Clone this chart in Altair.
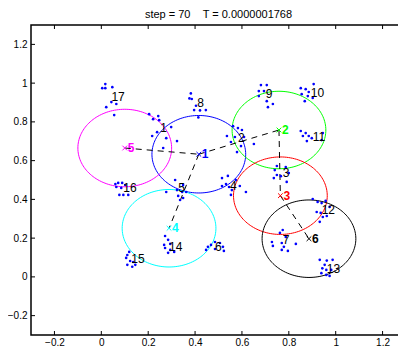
import altair as alt
import pandas as pd
import numpy as np

# ---------------- data ----------------
center_ids = ["1", "2", "3", "4", "5", "6"]
center_x = [0.416, 0.758, 0.764, 0.289, 0.100, 0.886]
center_y = [0.633, 0.758, 0.419, 0.251, 0.665, 0.197]
center_colors = ["#0000ff", "#00ff00", "#ff0000", "#00ffff", "#ff00ff", "#000000"]
radius = 0.2
edges = [("5", "1"), ("1", "2"), ("1", "4"), ("2", "3"), ("3", "6")]

cluster_names = [str(i) for i in range(1, 18)]
cluster_lx = [0.251, 0.583, 0.774, 0.549, 0.328, 0.485, 0.774, 0.409, 0.702,
              0.894, 0.902, 0.940, 0.962, 0.289, 0.128, 0.094, 0.043]
cluster_ly = [0.768, 0.716, 0.536, 0.469, 0.459, 0.155, 0.191, 0.897, 0.943,
              0.948, 0.722, 0.345, 0.041, 0.155, 0.093, 0.459, 0.928]

dots_x = {
    1: [0.204, 0.243, 0.221, 0.247, 0.298, 0.238, 0.217, 0.277, 0.323, 0.264],
    2: [0.562, 0.583, 0.600, 0.536, 0.570, 0.609, 0.553, 0.651, 0.579, 0.596],
    3: [0.749, 0.787, 0.740, 0.749, 0.736, 0.791, 0.800, 0.766],
    4: [0.515, 0.540, 0.532, 0.515, 0.545, 0.557, 0.553, 0.617, 0.574, 0.591],
    5: [0.277, 0.315, 0.349, 0.323, 0.345, 0.328, 0.349, 0.336, 0.362],
    6: [0.447, 0.455, 0.468, 0.485, 0.506, 0.519, 0.523, 0.485],
    7: [0.774, 0.762, 0.787, 0.728, 0.732, 0.770, 0.779, 0.796, 0.770, 0.830],
    8: [0.382, 0.376, 0.386, 0.404, 0.396, 0.421, 0.446, 0.414],
    9: [0.681, 0.706, 0.672, 0.694, 0.672, 0.706, 0.732, 0.711],
    10: [0.906, 0.851, 0.872, 0.885, 0.855, 0.881, 0.868, 0.902],
    11: [0.851, 0.872, 0.860, 0.885, 0.877, 0.898, 0.945, 0.940],
    12: [0.902, 0.923, 0.940, 0.957, 0.919, 0.936, 0.945, 0.962, 0.932, 0.974],
    13: [0.932, 0.962, 0.987, 0.953, 0.943, 0.960, 0.939, 0.960, 0.974, 0.981],
    14: [0.272, 0.285, 0.268, 0.272, 0.294, 0.294, 0.285, 0.311],
    15: [0.111, 0.119, 0.106, 0.123, 0.111, 0.132, 0.145, 0.136],
    16: [0.060, 0.072, 0.089, 0.064, 0.085, 0.102, 0.077, 0.094, 0.115],
    17: [0.017, 0.004, 0.017, 0.047, 0.043, 0.064, 0.021, 0.055],
}
dots_y = {
    1: [0.840, 0.830, 0.814, 0.809, 0.773, 0.747, 0.727, 0.716, 0.701, 0.665],
    2: [0.778, 0.768, 0.758, 0.727, 0.722, 0.722, 0.696, 0.686, 0.644, 0.675],
    3: [0.572, 0.567, 0.551, 0.526, 0.510, 0.490, 0.536, 0.520],
    4: [0.510, 0.521, 0.479, 0.469, 0.464, 0.448, 0.423, 0.438, 0.500, 0.469],
    5: [0.438, 0.500, 0.474, 0.448, 0.438, 0.418, 0.407, 0.397, 0.438],
    6: [0.139, 0.155, 0.165, 0.180, 0.175, 0.155, 0.134, 0.144],
    7: [0.242, 0.227, 0.206, 0.180, 0.160, 0.175, 0.155, 0.134, 0.139, 0.170],
    8: [0.947, 0.921, 0.918, 0.883, 0.861, 0.859, 0.861, 0.823],
    9: [0.990, 0.990, 0.959, 0.959, 0.933, 0.907, 0.892, 0.876],
    10: [0.995, 0.974, 0.969, 0.954, 0.943, 0.933, 0.907, 0.923],
    11: [0.753, 0.742, 0.727, 0.727, 0.701, 0.716, 0.742, 0.706],
    12: [0.402, 0.387, 0.381, 0.392, 0.335, 0.330, 0.309, 0.314, 0.284, 0.361],
    13: [0.088, 0.084, 0.088, 0.062, 0.044, 0.036, 0.019, 0.010, 0.005, 0.036],
    14: [0.211, 0.191, 0.165, 0.149, 0.170, 0.139, 0.124, 0.129],
    15: [0.113, 0.129, 0.098, 0.082, 0.062, 0.052, 0.062, 0.077],
    16: [0.479, 0.485, 0.485, 0.464, 0.459, 0.474, 0.423, 0.423, 0.423],
    17: [0.995, 0.974, 0.974, 0.979, 0.902, 0.892, 0.876, 0.835],
}

tick_values = [-0.2, 0, 0.2, 0.4, 0.6, 0.8, 1.0, 1.2]
x_domain = [-0.3, 1.3]
y_domain = [-0.3, 1.3]
title_text = "step = 70\u00a0\u00a0\u00a0\u00a0T = 0.0000001768"

# ---------------- tables ----------------
centers = pd.DataFrame({"cid": center_ids, "x": center_x, "y": center_y})
cpos = {c: (x, y) for c, x, y in zip(center_ids, center_x, center_y)}

theta = np.linspace(0, 2 * np.pi, 145)
circ_rows = []
for c, cx, cy in zip(center_ids, center_x, center_y):
    for k, t in enumerate(theta):
        circ_rows.append({"cid": c, "k": k, "x": cx + radius * np.cos(t), "y": cy + radius * np.sin(t)})
circ_df = pd.DataFrame(circ_rows)

edge_rows = []
for i, (a, b) in enumerate(edges):
    edge_rows.append({"e": i, "k": 0, "x": cpos[a][0], "y": cpos[a][1]})
    edge_rows.append({"e": i, "k": 1, "x": cpos[b][0], "y": cpos[b][1]})
edge_df = pd.DataFrame(edge_rows)

dot_rows = []
for c in dots_x:
    for x, y in zip(dots_x[c], dots_y[c]):
        dot_rows.append({"c": c, "x": x, "y": y})
dot_df = pd.DataFrame(dot_rows)

clabels = pd.DataFrame({"name": cluster_names, "x": cluster_lx, "y": cluster_ly})
ticks = pd.DataFrame({"t": tick_values})

# ---------------- encodings ----------------
W, H = 375, 310
FONT = "Liberation Sans"
xs = alt.Scale(domain=x_domain, nice=False, zero=False)
ys = alt.Scale(domain=y_domain, nice=False, zero=False)
xaxis = alt.Axis(values=tick_values, format="~g", title=None, grid=False, domain=False,
                 ticks=False, labelPadding=2, labelFont=FONT, labelFontSize=10,
                 labelColor="black", labelFlush=False)
yaxis = alt.Axis(values=tick_values, format="~g", title=None, grid=False, domain=False,
                 ticks=False, labelPadding=4, labelFont=FONT, labelFontSize=10,
                 labelColor="black", labelFlush=False)
cscale = alt.Scale(domain=center_ids, range=center_colors)


def X(f):
    return alt.X(f, scale=xs, axis=xaxis)


def Y(f):
    return alt.Y(f, scale=ys, axis=yaxis)


circles = alt.Chart(circ_df).mark_line(strokeWidth=1).encode(
    x=X("x:Q"), y=Y("y:Q"), detail="cid:N", order="k:Q",
    color=alt.Color("cid:N", scale=cscale, legend=None))

dashed = alt.Chart(edge_df).mark_line(strokeWidth=1, strokeDash=[6, 5], color="black").encode(
    x=X("x:Q"), y=Y("y:Q"), detail="e:N", order="k:Q")

dots = alt.Chart(dot_df).mark_circle(size=7, opacity=1, color="#0000ff").encode(
    x=X("x:Q"), y=Y("y:Q"))

markers = alt.Chart(centers).mark_point(shape="M-1,-1L1,1M-1,1L1,-1", size=22, filled=False,
                                        strokeWidth=1, opacity=1).encode(
    x=X("x:Q"), y=Y("y:Q"), color=alt.Color("cid:N", scale=cscale, legend=None))

clab = alt.Chart(clabels).mark_text(align="left", baseline="middle", fontSize=12,
                                    font=FONT, color="black").encode(
    x=X("x:Q"), y=Y("y:Q"), text="name:N")

ctext = alt.Chart(centers).mark_text(align="left", baseline="middle", dx=3, fontSize=12,
                                     fontWeight="bold", font=FONT).encode(
    x=X("x:Q"), y=Y("y:Q"), text="cid:N",
    color=alt.Color("cid:N", scale=cscale, legend=None))

tb = alt.Chart(ticks).mark_rule(color="black", strokeWidth=1).encode(
    x=X("t:Q"), y=alt.value(H), y2=alt.value(H - 4))
tt = alt.Chart(ticks).mark_rule(color="black", strokeWidth=1).encode(
    x=X("t:Q"), y=alt.value(0), y2=alt.value(4))
tl = alt.Chart(ticks).mark_rule(color="black", strokeWidth=1).encode(
    y=Y("t:Q"), x=alt.value(0), x2=alt.value(4))
tr = alt.Chart(ticks).mark_rule(color="black", strokeWidth=1).encode(
    y=Y("t:Q"), x=alt.value(W), x2=alt.value(W - 4))

chart = alt.layer(circles, dashed, dots, markers, clab, ctext, tb, tt, tl, tr).properties(
    width=W, height=H,
    title=alt.TitleParams(title_text, font=FONT, fontSize=11, fontWeight="normal",
                          color="black", offset=5, anchor="middle"),
    autosize=alt.AutoSizeParams(type="none"),
    padding={"left": 23, "top": 17, "right": -8, "bottom": 13},
).configure_view(stroke="black", strokeWidth=1.5)

chart.save("out.html", embed_options={"renderer": "svg", "actions": False})
